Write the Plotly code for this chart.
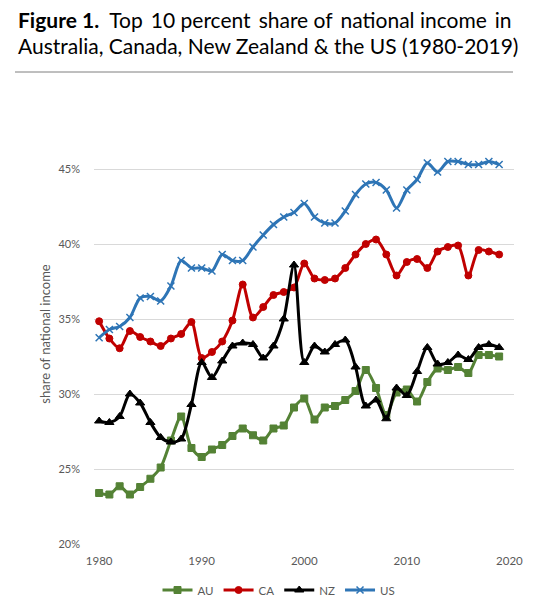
import plotly.graph_objects as go

years = list(range(1980, 2020))

au = [23.4, 23.3, 23.85, 23.3, 23.8, 24.35, 25.1, 26.9, 28.5, 26.4,
      25.8, 26.3, 26.6, 27.2, 27.7, 27.25, 26.9, 27.7, 27.9, 29.1,
      29.7, 28.3, 29.1, 29.2, 29.6, 30.2, 31.6, 30.4, 28.6, 30.1,
      30.3, 29.5, 30.8, 31.7, 31.6, 31.8, 31.4, 32.6, 32.6, 32.5]

ca = [34.85, 33.7, 33.05, 34.2, 33.8, 33.5, 33.2, 33.7, 34.0, 34.8,
      32.4, 32.8, 33.5, 34.9, 37.3, 35.1, 35.8, 36.6, 36.8, 37.1,
      38.7, 37.7, 37.6, 37.7, 38.4, 39.3, 40.0, 40.3, 39.3, 37.9,
      38.8, 39.0, 38.4, 39.5, 39.8, 39.9, 37.9, 39.6, 39.5, 39.3]

nz = [28.2, 28.1, 28.5, 30.0, 29.4, 28.1, 27.1, 26.8, 27.0, 29.3,
      32.1, 31.1, 32.2, 33.2, 33.4, 33.3, 32.4, 33.2, 35.0, 38.6,
      32.1, 33.2, 32.8, 33.3, 33.6, 31.8, 29.2, 29.6, 28.35, 30.4,
      29.9, 31.5, 33.1, 32.0, 32.1, 32.6, 32.3, 33.1, 33.3, 33.1]

us = [33.75, 34.3, 34.5, 35.1, 36.4, 36.5, 36.2, 37.2, 38.9, 38.4,
      38.4, 38.2, 39.3, 38.9, 38.9, 39.8, 40.6, 41.3, 41.8, 42.1,
      42.7, 41.8, 41.4, 41.4, 42.2, 43.3, 44.0, 44.1, 43.6, 42.4,
      43.6, 44.3, 45.4, 44.8, 45.5, 45.5, 45.3, 45.3, 45.5, 45.3]

series = [
    ("AU", au, "#548235", "square", 7, 1),
    ("CA", ca, "#C00000", "circle", 7, 1),
    ("NZ", nz, "#000000", "triangle-up", 8, 1),
    ("US", us, "#2E75B6", "x-thin", 7, 1.5),
]

fig = go.Figure()
for name, vals, color, sym, size, lw in series:
    fig.add_trace(go.Scatter(
        x=years, y=vals, name=name, mode="lines+markers",
        line=dict(color=color, width=3, shape="spline", smoothing=0.8),
        marker=dict(symbol=sym, size=size, color=color,
                    line=dict(color=color, width=lw)),
    ))

W, H = 553, 608
L, R, T, B = 94, 39, 124, 64
PW, PH = W - L - R, H - T - B


def px(x):  # page pixel -> paper
    return (x - L) / PW


def py(y):  # page pixel -> paper
    return (H - B - y) / PH


fig.update_layout(
    width=W, height=H,
    margin=dict(l=L, r=R, t=T, b=B, pad=0, autoexpand=False),
    paper_bgcolor="white", plot_bgcolor="white",
    font=dict(family="Lato, Carlito, sans-serif", color="#595959", size=11),
    xaxis=dict(
        range=[1979.5, 2020.45], tickmode="array",
        tickvals=[1980, 1990, 2000, 2010, 2020],
        showgrid=False, zeroline=False, showline=False, automargin=False,
        ticks="", ticklen=0, tickfont=dict(size=11.5, color="#595959"),
        ticklabelstandoff=8,
    ),
    yaxis=dict(
        range=[20, 48], tickmode="array",
        tickvals=[20, 25, 30, 35, 40, 45],
        ticktext=["20%", "25%", "30%", "35%", "40%", "45%"],
        showgrid=True, gridcolor="#d9d9d9", gridwidth=1, automargin=False,
        zeroline=False, showline=False, ticks="", ticklabelstandoff=13,
        title=dict(text="share of national income", standoff=4,
                   font=dict(size=13, color="#595959")),
        tickfont=dict(size=11, color="#595959"),
    ),
    legend=dict(
        orientation="h", x=px(279), xanchor="center",
        y=py(590), yanchor="middle",
        font=dict(size=11.5, color="#595959"),
        tracegroupgap=0,
    ),
    showlegend=True,
)

TS = "\u2009"  # thin space to approximate the justified first line
fig.add_annotation(
    text="<b>Figure 1.</b>\u00a0 Top" + TS + " 10 percent" + TS + " share of"
         + TS + " national income" + TS + " in",
    xref="paper", yref="paper", x=px(16), y=py(19), xanchor="left",
    yanchor="middle", showarrow=False,
    font=dict(family="Lato, sans-serif", size=21, color="#000000"))
fig.add_annotation(
    text="Australia, Canada, New Zealand &amp; the US (1980-2019)",
    xref="paper", yref="paper", x=px(16), y=py(45), xanchor="left",
    yanchor="middle", showarrow=False,
    font=dict(family="Lato, sans-serif", size=21, color="#000000"))

fig.add_shape(type="line", xref="paper", yref="paper",
              x0=px(15), x1=px(513), y0=py(72), y1=py(72),
              line=dict(color="#7f7f7f", width=1))

fig.write_html("out.html",
               config={"displayModeBar": False},
               post_script="document.body.style.margin='0';"
                           "document.body.style.padding='0';")
